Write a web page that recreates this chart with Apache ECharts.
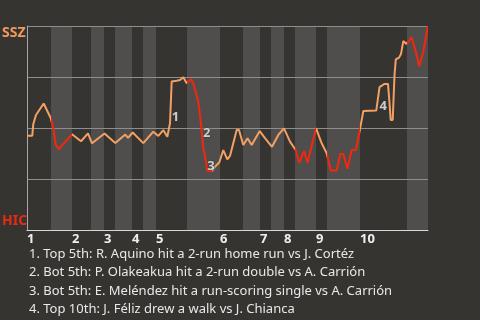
<!DOCTYPE html>
<html>
<head>
<meta charset="utf-8">
<script src="https://cdn.jsdelivr.net/npm/echarts@6/dist/echarts.min.js"></script>
<style>
html,body{margin:0;padding:0;background:#363431;}
#c{width:480px;height:320px;}
</style>
</head>
<body>
<div id="c"></div>
<script>
// game progress (0-100) and SSZ win probability (%)
const progress = [0,1.32,1.57,2.24,4.16,5.91,6.56,7.16,7.91,11.22,13.47,15.21,16.21,19.33,22.02,24.51,25.19,26.36,29.0,31.5,32.74,33.99,34.99,35.66,36.08,37.33,38.15,38.98,39.83,40.9,41.47,42.72,43.32,43.97,44.64,44.96,46.06,46.88,47.96,48.95,49.95,50.62,52.29,52.87,53.94,54.99,56.03,58.03,59.35,61.1,62.67,64.09,65.59,67.01,67.88,69.08,69.95,72.07,73.49,74.74,75.74,77.23,78.13,78.88,79.88,80.97,82.04,83.04,83.87,84.29,87.11,87.91,88.28,89.15,90.02,90.4,90.7,91.2,91.65,91.97,92.77,93.27,93.84,94.14,94.64,95.09,95.94,97.13,97.83,98.83,100];
const winProb = [46.2,46.2,52.0,56.4,62.0,54.9,49.9,41.7,39.6,46.9,43.5,47.4,42.5,47.3,42.6,46.8,45.2,47.8,42.6,48.2,46.1,49.0,45.7,52.3,72.8,73.2,73.5,74.9,71.9,73.9,71.9,62.9,53.1,40.0,33.5,28.9,28.9,31.0,33.2,39.2,34.6,36.3,49.0,49.0,41.7,45.0,41.7,48.5,45.0,40.8,46.6,49.8,43.3,39.2,33.0,38.7,33.0,49.9,42.5,37.6,29.2,29.2,37.3,37.3,30.0,39.2,39.2,49.5,58.3,58.6,58.6,70.0,70.6,71.6,71.6,62.3,53.9,53.9,76.0,83.6,84.5,86.3,92.6,93.1,91.2,90.7,94.4,86.3,80.1,87.5,100];

// innings
const inningLabels = ['1','2','3','4','5','6','7','8','9','10'];
const topStarts    = [0,11.22,19.2,26.18,32.17,48.13,58.1,64.09,72.07,83.04];
const bottomStarts = [5.99,15.96,21.95,28.93,39.9,53.87,60.85,66.83,74.81,94.76];
const gameEnd = 100;

// line colour breaks (alternating SSZ orange / HIC red)
const colorBreaks = [0,5.99,11.22,39.9,46.06,66.83,72.07,74.81,83.04,94.76,100];

// annotations
const noteMarks = ['1','2','3','4'];
const notePoints = [23,32,35,70];
const notes = [
  '1. Top 5th: R. Aquino hit a 2-run home run vs J. Cortéz',
  '2. Bot 5th: P. Olakeakua hit a 2-run double vs A. Carrión',
  '3. Bot 5th: E. Meléndez hit a run-scoring single vs A. Carrión',
  '4. Top 10th: J. Féliz drew a walk vs J. Chianca'
];
const teamTop = 'SSZ';
const teamBottom = 'HIC';

const ORANGE = '#f2a064';
const RED = '#f5260c';
const FONT = '"Noto Sans", sans-serif';

const lineData = progress.map((x, i) => [x, winProb[i]]);
const pieces = [];
for (let i = 0; i < colorBreaks.length - 1; i++) {
  pieces.push({gte: colorBreaks[i], lt: colorBreaks[i+1] + (i === colorBreaks.length - 2 ? 0.01 : 0), color: i % 2 === 0 ? ORANGE : RED});
}
const bands = bottomStarts.map((b, i) => [{xAxis: b}, {xAxis: i + 1 < topStarts.length ? topStarts[i+1] : gameEnd}]);
const labelOffsets = [[5.5,-6],[6,11.5],[3.7,-4.3],[7,-3.8]];

const chart = echarts.init(document.getElementById('c'), null, {renderer: 'canvas'});
chart.setOption({
  backgroundColor: '#363431',
  animation: false,
  grid: {left: 27, right: 52, top: 26, bottom: 90},
  xAxis: {
    type: 'value', min: 0, max: gameEnd, z: 2,
    axisLine: {show: true, lineStyle: {color: '#d8d8d8', width: 1}},
    axisTick: {show: false},
    splitLine: {show: false},
    axisLabel: {
      customValues: topStarts,
      formatter: v => { const i = topStarts.indexOf(v); return i >= 0 ? inningLabels[i] : ''; },
      align: 'left', margin: 3, color: '#eeeeee', fontWeight: 'bold', fontSize: 13, fontFamily: FONT
    }
  },
  yAxis: {
    type: 'value', min: 0, max: 100, interval: 25, z: 2,
    axisLine: {show: true, lineStyle: {color: '#a8a8a8', width: 1}},
    axisTick: {show: false},
    axisLabel: {show: false},
    splitLine: {show: true, lineStyle: {color: '#8e8e8e', width: 1}}
  },
  visualMap: {
    type: 'piecewise', show: false, dimension: 0, seriesIndex: 1,
    pieces: pieces
  },
  title: {
    text: notes.join('\n'), left: 29, top: 245, padding: 0,
    textStyle: {fontSize: 13, lineHeight: 18.5, color: '#e8e8e8', fontWeight: 'normal', fontFamily: FONT}
  },
  graphic: [
    {type: 'text', left: 2, top: 26, style: {text: teamTop, fill: '#ef9a5e', font: 'bold 14px ' + FONT}},
    {type: 'text', left: 2, top: 214, style: {text: teamBottom, fill: '#e82a10', font: 'bold 14px ' + FONT}}
  ],
  series: [
    {
      type: 'line', data: [], z: 1, silent: true,
      markArea: {silent: true, itemStyle: {color: '#4f4e4c'}, data: bands}
    },
    {
      type: 'line', data: lineData, z: 3, showSymbol: false, symbol: 'none',
      lineStyle: {width: 2}, silent: true
    },
    {
      type: 'scatter', z: 4, symbolSize: 1, silent: true,
      itemStyle: {color: 'rgba(0,0,0,0)'},
      data: notePoints.map((idx, i) => ({
        value: lineData[idx],
        label: {
          show: true, formatter: noteMarks[i], position: 'inside', offset: labelOffsets[i],
          color: '#f2f2f2', fontWeight: 'bold', fontSize: 13, fontFamily: FONT,
          textBorderColor: '#363431', textBorderWidth: 1
        }
      }))
    }
  ]
});
</script>
</body>
</html>
